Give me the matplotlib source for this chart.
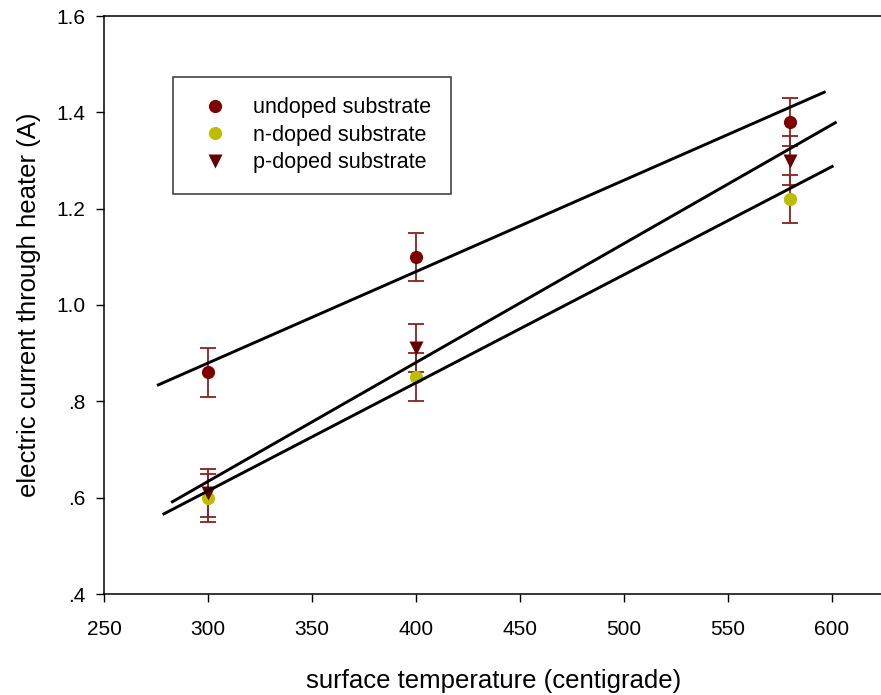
import matplotlib
matplotlib.use("Agg")
import matplotlib.pyplot as plt
from matplotlib.lines import Line2D

plt.rcParams['font.family'] = ['Liberation Sans', 'DejaVu Sans']

# ---- data ----
temperature = [300, 400, 580]
undoped = [0.86, 1.10, 1.38]
undoped_err = [0.05, 0.05, 0.05]
ndoped = [0.60, 0.85, 1.22]
ndoped_err = [0.05, 0.05, 0.05]
pdoped = [0.61, 0.91, 1.30]
pdoped_err = [0.05, 0.05, 0.05]

# fitted lines (start/end)
fit_undoped_x = [275.5, 597.0]
fit_undoped_y = [0.833, 1.443]
fit_ndoped_x = [278.2, 600.8]
fit_ndoped_y = [0.565, 1.289]
fit_pdoped_x = [282.3, 602.3]
fit_pdoped_y = [0.590, 1.380]

series_labels = ['undoped substrate', 'n-doped substrate', 'p-doped substrate']
xticks = [250, 300, 350, 400, 450, 500, 550, 600]
yticks = [0.4, 0.6, 0.8, 1.0, 1.2, 1.4, 1.6]
ytick_labels = ['.4', '.6', '.8', '1.0', '1.2', '1.4', '1.6']

c_undoped = '#800000'
c_ndoped = '#BEBE00'
c_pdoped = '#650000'
c_err = '#8B2020'

fig = plt.figure(figsize=(8.81, 6.95), dpi=100)
ax = fig.add_axes([104/881, 1-594/695, 1-104/881+0.002, (594-16)/695])

errkw = dict(fmt='none', ecolor=c_err, elinewidth=1.3, capsize=5.8, capthick=1.3, zorder=2)
ax.errorbar(temperature, undoped, yerr=undoped_err, **errkw)
ax.errorbar(temperature, ndoped, yerr=ndoped_err, **errkw)
ax.errorbar(temperature, pdoped, yerr=pdoped_err, **errkw)

ax.plot(temperature, undoped, 'o', color=c_undoped, ms=9.5, mec='none', zorder=3)
ax.plot(temperature, ndoped, 'o', color=c_ndoped, ms=9.5, mec='none', zorder=3)
ax.plot(temperature, pdoped, 'v', color=c_pdoped, ms=10, mec='none', zorder=3)

lw = 2.1
ax.plot(fit_undoped_x, fit_undoped_y, color='black', lw=lw, zorder=4, solid_capstyle='butt')
ax.plot(fit_ndoped_x, fit_ndoped_y, color='black', lw=lw, zorder=4, solid_capstyle='butt')
ax.plot(fit_pdoped_x, fit_pdoped_y, color='black', lw=lw, zorder=4, solid_capstyle='butt')

ax.set_xlim(250, 624.5)
ax.set_ylim(0.4, 1.6)
ax.set_xticks(xticks)
ax.set_yticks(yticks)
ax.set_yticklabels(ytick_labels)

for s in ['left', 'bottom', 'top']:
    ax.spines[s].set_linewidth(1.1)
ax.spines['right'].set_visible(False)
ax.tick_params(axis='both', direction='out', length=5.5, width=1.0, labelsize=15)
ax.tick_params(axis='x', pad=13.5)
ax.tick_params(axis='y', pad=8)

ax.set_xlabel('surface temperature (centigrade)', fontsize=18.5, labelpad=21)
ax.set_ylabel('electric current through heater (A)', fontsize=18.5, labelpad=11)

handles = [
    Line2D([], [], marker='o', ls='none', color=c_undoped, ms=9.5, mec='none'),
    Line2D([], [], marker='o', ls='none', color=c_ndoped, ms=9.5, mec='none'),
    Line2D([], [], marker='v', ls='none', color=c_pdoped, ms=10, mec='none'),
]
leg = ax.legend(handles, series_labels, loc='upper left',
                bbox_to_anchor=((173-104)/777, 1-(77-16)/578),
                borderaxespad=0, fontsize=15.5, frameon=True, fancybox=False,
                shadow=False, borderpad=0.95, handlelength=2.0, handletextpad=0.75,
                labelspacing=0.3)
leg.get_frame().set_edgecolor('black')
leg.get_frame().set_linewidth(1.1)

fig.savefig('out.png', dpi=100)
